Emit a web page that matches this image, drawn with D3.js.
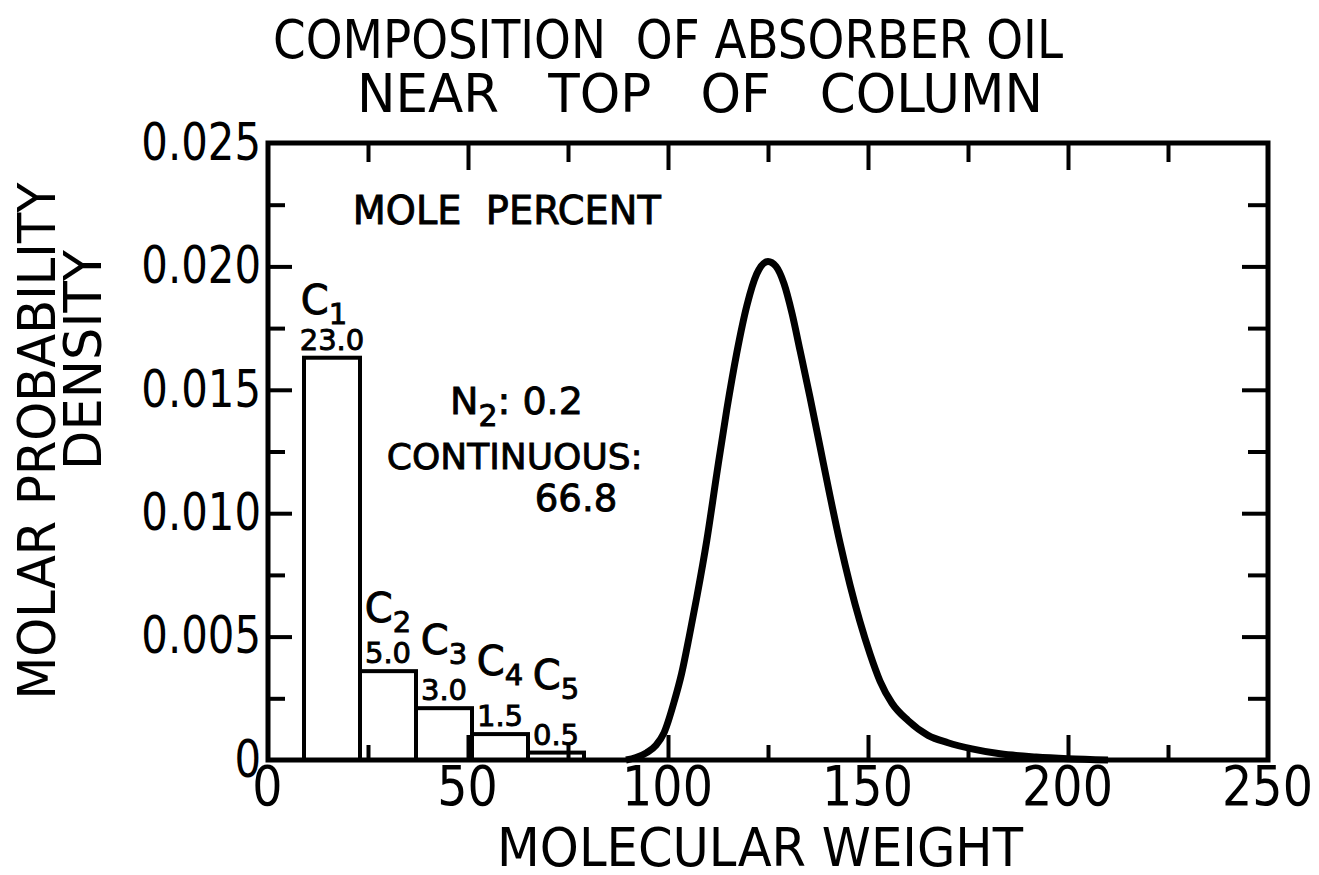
<!DOCTYPE html>
<html>
<head>
<meta charset="utf-8">
<script src="https://cdn.jsdelivr.net/npm/d3@7"></script>
<style>
  body { margin: 0; background: #fff; }
  svg { display: block; font-family: "DejaVu Sans", sans-serif; }
  svg text { white-space: pre; }
  .axis text { font-family: "DejaVu Sans", sans-serif; fill: #000; }
  .axis path { display: none; }
  .axis line { stroke: #000; stroke-width: 4; }
  .ann text { fill: #000; stroke: #000; stroke-width: 0.9; }
</style>
</head>
<body>
<script>
// discrete components: centre molecular weight, bar width, density, mole percent
var compNames = ["1", "2", "3", "4", "5"];
var compMW = [16, 30, 44, 58, 72];
var compWidth = 14;
var compDensity = [0.0163, 0.0036, 0.0021, 0.00105, 0.0003];
var compPercent = ["23.0", "5.0", "3.0", "1.5", "0.5"];

// continuous part
var curveMW = [89.5, 92, 94.7, 97, 99, 101.6, 103.4, 105.3, 107.2, 109.7, 112.2, 114.7, 117.2, 119.7, 122.2, 125,
               127, 129, 131, 133, 135.5, 138, 140.5, 143, 145.5, 148, 150.5, 153, 156, 160, 165, 170, 176, 183, 192, 200, 210];
var curveDensity = [0, 0.0001, 0.0003, 0.0006, 0.0011, 0.0024, 0.0035, 0.0050, 0.0066, 0.0089, 0.0116, 0.0142, 0.0165, 0.0184, 0.0197, 0.0202,
                    0.0200, 0.0193, 0.0181, 0.0166, 0.0147, 0.0127, 0.0107, 0.0088, 0.0071, 0.0056, 0.0043, 0.0032, 0.0023, 0.0016, 0.0010,
                    0.0007, 0.00045, 0.00025, 0.00012, 0.00005, 0];

var xTicks = [0, 50, 100, 150, 200, 250];
var xMinor = [25, 75, 125, 175, 225];
var yTicks = [0, 0.005, 0.010, 0.015, 0.020, 0.025];
var yMinor = [0.0025, 0.0075, 0.0125, 0.0175, 0.0225];
var yTickLabels = ["0", "0.005", "0.010", "0.015", "0.020", "0.025"];

var titleLines = ["COMPOSITION  OF ABSORBER OIL", "NEAR   TOP   OF   COLUMN"];

var margin = {top: 143, right: 51, bottom: 115, left: 268},
    width = 1319 - margin.left - margin.right,
    height = 875 - margin.top - margin.bottom;

var x = d3.scaleLinear().domain([0, 250]).range([0, width]);
var y = d3.scaleLinear().domain([0, 0.025]).range([height, 0]);

var svg = d3.select("body")
    .append("svg")
        .attr("width", 1319)
        .attr("height", 875);

var g = svg.append("g")
    .attr("transform", "translate(" + margin.left + "," + margin.top + ")");

// squeeze a text to a share of its natural width (the lettering is narrower than DejaVu)
function squeeze(sel, k) {
    sel.attr("lengthAdjust", "spacingAndGlyphs")
       .attr("textLength", function() { return this.getComputedTextLength() * k; });
}
function fitTo(sel, w) {
    sel.attr("lengthAdjust", "spacingAndGlyphs").attr("textLength", w);
}

// title
svg.selectAll(".title")
    .data(titleLines)
    .enter()
    .append("text")
        .attr("class", "title")
        .attr("x", function(d, i) { return i == 0 ? 668 : 700; })
        .attr("y", function(d, i) { return 58 + i * 54; })
        .attr("text-anchor", "middle")
        .style("font-size", "54px")
        .text(function(d) { return d; })
        .each(function(d, i) { d3.select(this).call(fitTo, i == 0 ? 790 : 686); });

// bars
g.selectAll(".bar")
    .data(compMW)
    .enter()
    .append("rect")
        .attr("class", "bar")
        .attr("x", function(d) { return x(d - compWidth / 2); })
        .attr("width", function(d) { return x(compWidth) - x(0); })
        .attr("y", function(d, i) { return y(compDensity[i]); })
        .attr("height", function(d, i) { return height - y(compDensity[i]); })
        .style("fill", "#fff")
        .style("stroke", "#000")
        .style("stroke-width", 4);

// continuous curve
var line = d3.line()
    .x(function(d) { return x(d[0]); })
    .y(function(d) { return y(d[1]); })
    .curve(d3.curveMonotoneX);

g.append("path")
    .datum(d3.zip(curveMW, curveDensity))
    .attr("d", line)
    .style("fill", "none")
    .style("stroke", "#000")
    .style("stroke-width", 7)
    .style("stroke-linejoin", "round");

// frame
g.append("rect")
    .attr("width", width)
    .attr("height", height)
    .style("fill", "none")
    .style("stroke", "#000")
    .style("stroke-width", 5);

// inward ticks on all four sides
g.append("g").attr("class", "axis").attr("transform", "translate(0," + height + ")")
    .call(d3.axisBottom(x).tickValues(xTicks.slice(1, -1)).tickSize(-25).tickFormat(""));
g.append("g").attr("class", "axis").attr("transform", "translate(0," + height + ")")
    .call(d3.axisBottom(x).tickValues(xMinor).tickSize(-15).tickFormat(""));
g.append("g").attr("class", "axis")
    .call(d3.axisTop(x).tickValues(xTicks.slice(1, -1)).tickSize(-27).tickFormat(""));
g.append("g").attr("class", "axis")
    .call(d3.axisTop(x).tickValues(xMinor).tickSize(-19).tickFormat(""));
g.append("g").attr("class", "axis")
    .call(d3.axisLeft(y).tickValues(yTicks.slice(1, -1)).tickSize(-24).tickFormat(""));
g.append("g").attr("class", "axis")
    .call(d3.axisLeft(y).tickValues(yMinor).tickSize(-17).tickFormat(""));
g.append("g").attr("class", "axis").attr("transform", "translate(" + width + ",0)")
    .call(d3.axisRight(y).tickValues(yTicks.slice(1, -1)).tickSize(-26).tickFormat(""));
g.append("g").attr("class", "axis").attr("transform", "translate(" + width + ",0)")
    .call(d3.axisRight(y).tickValues(yMinor).tickSize(-20).tickFormat(""));

// tick labels
var xLab = g.append("g").attr("class", "axis").attr("transform", "translate(0," + height + ")")
    .call(d3.axisBottom(x).tickValues(xTicks).tickSize(0).tickPadding(5));
xLab.selectAll("text")
    .style("font-size", "56px")
    .attr("dx", -1)
    .attr("dy", "0.71em")
    .call(squeeze, 0.85);

var yLab = g.append("g").attr("class", "axis")
    .call(d3.axisLeft(y).tickValues(yTicks).tickSize(0).tickPadding(7)
        .tickFormat(function(d, i) { return yTickLabels[i]; }));
yLab.selectAll("text")
    .style("font-size", "51px")
    .call(squeeze, 0.82);

// axis titles
svg.append("text")
    .attr("x", 760)
    .attr("y", 866)
    .attr("text-anchor", "middle")
    .style("font-size", "54px")
    .text("MOLECULAR WEIGHT")
    .call(fitTo, 526);

svg.append("text")
    .attr("transform", "translate(55,441) rotate(-90)")
    .attr("text-anchor", "middle")
    .style("font-size", "52px")
    .text("MOLAR PROBABILITY")
    .call(fitTo, 517);

svg.append("text")
    .attr("transform", "translate(101,360) rotate(-90)")
    .attr("text-anchor", "middle")
    .style("font-size", "52px")
    .text("DENSITY")
    .call(fitTo, 220);

// annotations
var ann = g.append("g").attr("class", "ann");

ann.append("text")
    .attr("x", x(21.2))
    .attr("y", y(0.0217))
    .style("font-size", "39px")
    .text("MOLE  PERCENT")
    .call(fitTo, 308);

var n2 = ann.append("text")
    .attr("x", x(45.5))
    .attr("y", y(0.0140))
    .style("font-size", "38px");
n2.append("tspan").text("N");
n2.append("tspan").attr("dy", 12).style("font-size", "30px").text("2");
n2.append("tspan").attr("dy", -12).text(": 0.2");

ann.append("text")
    .attr("x", x(29.7))
    .attr("y", y(0.0118))
    .style("font-size", "36px")
    .text("CONTINUOUS:");

ann.append("text")
    .attr("x", x(66.7))
    .attr("y", y(0.0101))
    .style("font-size", "37px")
    .text("66.8");

// labels above the bars
ann.selectAll(".pct")
    .data(compMW)
    .enter()
    .append("text")
        .attr("class", "pct")
        .attr("x", function(d) { return x(d); })
        .attr("y", function(d, i) { return y(compDensity[i]) - 8; })
        .attr("text-anchor", "middle")
        .style("font-size", "29px")
        .text(function(d, i) { return compPercent[i]; });

var cLab = ann.selectAll(".clab")
    .data(compMW)
    .enter()
    .append("text")
        .attr("class", "clab")
        .attr("x", function(d, i) { return x(d) - (i == 0 ? 8 : 0); })
        .attr("y", function(d, i) { return y(compDensity[i]) - 44 - 5 * i; })
        .attr("text-anchor", "middle")
        .style("font-size", "40px");
cLab.append("tspan").text("C");
cLab.append("tspan").attr("dy", 10).style("font-size", "29px")
    .text(function(d, i) { return compNames[i]; });
</script>
</body>
</html>
